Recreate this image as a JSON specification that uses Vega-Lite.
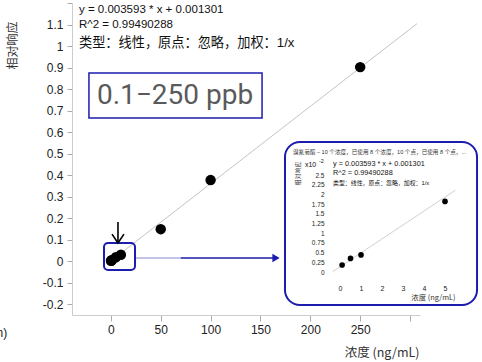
{
  "$schema": "https://vega.github.io/schema/vega-lite/v6.json",
  "width": 348,
  "height": 312,
  "autosize": {"type": "none"},
  "padding": {"left": 72, "top": 3, "right": 62, "bottom": 47},
  "background": "white",
  "config": {"view": {"stroke": null}, "axis": {"grid": false}},
  "resolve": {"scale": {"x": "independent", "y": "independent"}, "axis": {"x": "independent", "y": "independent"}},
  "layer": [
    {
      "encoding": {
        "x": {"field": "conc", "type": "quantitative",
          "scale": {"domain": [-39, 310], "nice": false, "zero": false},
          "axis": {"values": [0, 50, 100, 150, 200, 250, 300], "labelExpr": "datum.value > 280 ? '' : datum.label",
            "tickSize": 6, "tickColor": "#aaa", "domainColor": "#ccc", "labelFontSize": 12, "labelColor": "#222",
            "labelFont": "Liberation Sans", "labelPadding": 3,
            "title": "浓度 (ng/mL)", "titleFont": "Noto Sans CJK SC", "titleFontSize": 12.5, "titleFontWeight": "normal",
            "titleColor": "#333", "titleX": 347, "titleY": 37, "titleAlign": "right", "titleBaseline": "middle"}},
        "y": {"field": "resp", "type": "quantitative",
          "scale": {"domain": [-0.25, 1.2], "nice": false, "zero": false},
          "axis": {"values": [-0.2, -0.1, 0, 0.1, 0.2, 0.3, 0.4, 0.5, 0.6, 0.7, 0.8, 0.9, 1, 1.1, 1.2],
            "labelExpr": "datum.value > 1.15 ? '' : '' + round(datum.value*10)/10",
            "tickSize": 5, "tickColor": "#aaa", "domainColor": "#ccc", "labelFontSize": 12, "labelColor": "#222",
            "labelFont": "Liberation Sans", "labelPadding": 4,
            "title": "相对响应", "titleFont": "Noto Sans CJK SC", "titleFontSize": 12, "titleFontWeight": "normal",
            "titleColor": "#333", "titleX": -60, "titleY": 42, "titleAlign": "center", "titleBaseline": "middle"}}
      },
      "layer": [
        {
          "data": {"values": [{"conc": 0, "resp": 0.0013}, {"conc": 307, "resp": 1.104}]},
          "mark": {"type": "line", "color": "#c4c4c4", "strokeWidth": 1}
        },
        {
          "data": {"values": [
            {"conc": 0.1, "resp": 0.0018}, {"conc": 0.5, "resp": 0.0035}, {"conc": 1, "resp": 0.0044},
            {"conc": 5, "resp": 0.0182}, {"conc": 10, "resp": 0.03}, {"conc": 50, "resp": 0.149},
            {"conc": 100, "resp": 0.377}, {"conc": 250, "resp": 0.902}]},
          "mark": {"type": "point", "filled": true, "color": "black", "opacity": 1, "size": 110}
        },
        {
          "data": {"values": [
            {"conc": -32, "resp": 1.1675, "label": "y = 0.003593 * x  + 0.001301"},
            {"conc": -32, "resp": 1.0978, "label": "R^2 = 0.99490288"}]},
          "mark": {"type": "text", "align": "left", "baseline": "middle", "font": "Liberation Sans", "fontSize": 11.5, "color": "#111"},
          "encoding": {"text": {"field": "label"}}
        },
        {
          "data": {"values": [{"conc": -32, "resp": 1.0127, "label": "类型：线性，原点：忽略，加权：1/x"}]},
          "mark": {"type": "text", "align": "left", "baseline": "middle", "font": "Liberation Sans, Noto Sans CJK SC", "fontSize": 13.2, "color": "#111"},
          "encoding": {"text": {"field": "label"}}
        },
        {
          "data": {"values": [{"conc": -104, "resp": -0.334, "label": "(min)"}]},
          "mark": {"type": "text", "align": "right", "baseline": "middle", "font": "Liberation Sans", "fontSize": 12, "color": "#222"},
          "encoding": {"text": {"field": "label"}}
        },
        {
          "data": {"values": [{"conc": -22, "conc2": 151.6, "resp": 0.875, "resp2": 0.666}]},
          "mark": {"type": "rect", "fillOpacity": 0, "stroke": "#1c1cae", "strokeWidth": 1.5},
          "encoding": {"x2": {"field": "conc2"}, "y2": {"field": "resp2"}}
        },
        {
          "data": {"values": [{"conc": 64.3, "resp": 0.768, "label": "0.1−250 ppb"}]},
          "mark": {"type": "text", "align": "center", "baseline": "middle", "font": "Roboto", "fontSize": 28, "color": "#5a5a5a"},
          "encoding": {"text": {"field": "label"}}
        },
        {
          "data": {"values": [{"conc": -6.9, "conc2": 24.2, "resp": 0.0846, "resp2": -0.041}]},
          "mark": {"type": "rect", "fillOpacity": 0, "stroke": "#1c1cae", "strokeWidth": 2, "cornerRadius": 4},
          "encoding": {"x2": {"field": "conc2"}, "y2": {"field": "resp2"}}
        },
        {
          "data": {"values": [{"conc": 7.1, "resp": 0.182, "resp2": 0.0846}]},
          "mark": {"type": "rule", "color": "black", "strokeWidth": 1.6},
          "encoding": {"y2": {"field": "resp2"}}
        },
        {
          "data": {"values": [{"conc": 1.1, "resp": 0.126, "o": 0}, {"conc": 7.1, "resp": 0.0846, "o": 1}, {"conc": 13.1, "resp": 0.126, "o": 2}]},
          "mark": {"type": "line", "color": "black", "strokeWidth": 1.6},
          "encoding": {"order": {"field": "o"}}
        },
        {
          "data": {"values": [{"conc": 24.2, "conc2": 70, "resp": 0.015}]},
          "mark": {"type": "rule", "color": "#1c1cae", "strokeWidth": 1.3, "opacity": 0.35},
          "encoding": {"x2": {"field": "conc2"}}
        },
        {
          "data": {"values": [{"conc": 70, "conc2": 163, "resp": 0.015}]},
          "mark": {"type": "rule", "color": "#1c1cae", "strokeWidth": 1.3},
          "encoding": {"x2": {"field": "conc2"}}
        },
        {
          "data": {"values": [{"conc": 165.6, "resp": 0.015}]},
          "mark": {"type": "point", "shape": "triangle-right", "filled": true, "color": "#1c1cae", "opacity": 1, "size": 70}
        },
        {
          "data": {"values": [{"conc": 174.6, "conc2": 367.2, "resp": 0.554, "resp2": -0.2036}]},
          "mark": {"type": "rect", "fill": "white", "stroke": "#1c1cae", "strokeWidth": 2, "cornerRadius": 15},
          "encoding": {"x2": {"field": "conc2"}, "y2": {"field": "resp2"}}
        }
      ]
    },
    {
      "encoding": {
        "x": {"field": "c", "type": "quantitative",
          "scale": {"domain": [-0.5, 5.5], "range": [257.5, 383.5], "nice": false, "zero": false},
          "axis": {"orient": "bottom", "offset": -33, "zindex": 1, "values": [0, 1, 2, 3, 4, 5], "domain": false, "ticks": false, "tickSize": 0,
            "labelPadding": 2, "labelFontSize": 7, "labelColor": "#222", "labelFont": "Liberation Sans",
            "title": "浓度 (ng/mL)", "titleFont": "Noto Sans CJK SC", "titleFontSize": 7.4, "titleFontWeight": "normal", "titleColor": "#333",
            "titleX": 383, "titleY": 15, "titleAlign": "right", "titleBaseline": "middle"}},
        "y": {"field": "r", "type": "quantitative",
          "scale": {"domain": [-0.001, 0.027], "range": [272.88, 164.24], "nice": false, "zero": false},
          "axis": {"orient": "left", "offset": -255, "zindex": 1, "values": [0, 0.0025, 0.005, 0.0075, 0.01, 0.0125, 0.015, 0.0175, 0.02, 0.0225, 0.025],
            "labelExpr": "'' + round(datum.value*10000)/100", "domain": false, "ticks": false, "tickSize": 0,
            "labelPadding": 3, "labelFontSize": 6.5, "labelColor": "#222", "labelFont": "Liberation Sans",
            "title": "相对响应", "titleFont": "Noto Sans CJK SC", "titleFontSize": 6, "titleFontWeight": "normal", "titleColor": "#333",
            "titleX": -30, "titleY": 170, "titleAlign": "center", "titleBaseline": "middle"}}
      },
      "layer": [
        {
          "data": {"values": [{"c": -0.35, "r": 0.0001}, {"c": 5.5, "r": 0.0211}]},
          "mark": {"type": "line", "color": "#c4c4c4", "strokeWidth": 0.8}
        },
        {
          "data": {"values": [{"c": 0.1, "r": 0.0018}, {"c": 0.5, "r": 0.0035}, {"c": 1, "r": 0.0044}, {"c": 5, "r": 0.0182}]},
          "mark": {"type": "point", "filled": true, "color": "black", "opacity": 1, "size": 32}
        },
        {
          "data": {"values": [{"c": -2.24, "r": 0.0309, "label": "溴氰菊酯 – 10 个浓度，已使用 8 个浓度，10 个点，已使用 8 个点，..."}]},
          "mark": {"type": "text", "align": "left", "baseline": "middle", "font": "Liberation Sans, Noto Sans CJK SC", "fontSize": 5.6, "color": "#333"},
          "encoding": {"text": {"field": "label"}}
        },
        {
          "data": {"values": [
            {"c": -0.33, "r": 0.0278, "label": "y = 0.003593 * x  + 0.001301"},
            {"c": -0.33, "r": 0.0255, "label": "R^2 = 0.99490288"}]},
          "mark": {"type": "text", "align": "left", "baseline": "middle", "font": "Liberation Sans", "fontSize": 7.3, "color": "#111"},
          "encoding": {"text": {"field": "label"}}
        },
        {
          "data": {"values": [{"c": -0.33, "r": 0.0229, "label": "类型：线性，原点：忽略，加权：1/x"}]},
          "mark": {"type": "text", "align": "left", "baseline": "middle", "font": "Liberation Sans, Noto Sans CJK SC", "fontSize": 5.9, "color": "#111"},
          "encoding": {"text": {"field": "label"}}
        },
        {
          "data": {"values": [{"c": -1.67, "r": 0.0276, "label": "x10"}]},
          "mark": {"type": "text", "align": "left", "baseline": "middle", "font": "Liberation Sans", "fontSize": 7, "color": "#111"},
          "encoding": {"text": {"field": "label"}}
        },
        {
          "data": {"values": [{"c": -1.0, "r": 0.0286, "label": "-2"}]},
          "mark": {"type": "text", "align": "left", "baseline": "middle", "font": "Liberation Sans", "fontSize": 5.5, "color": "#111"},
          "encoding": {"text": {"field": "label"}}
        }
      ]
    }
  ]
}
